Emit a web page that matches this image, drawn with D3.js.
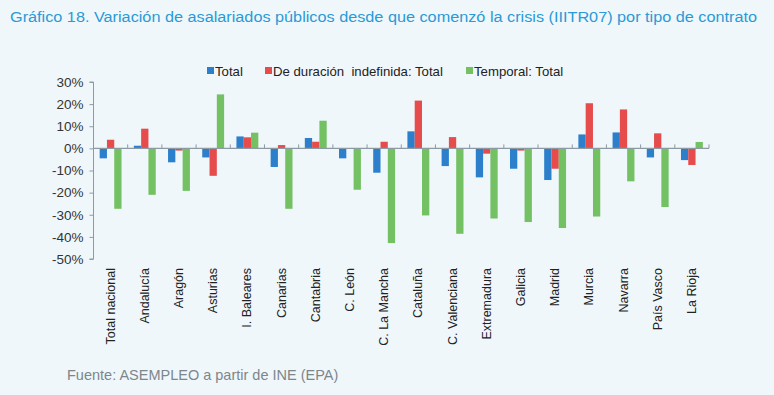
<!DOCTYPE html>
<html><head><meta charset="utf-8">
<script src="https://cdn.jsdelivr.net/npm/d3@7"></script>
<style>
html,body{margin:0;padding:0;background:#f0f7fb;}
svg{display:block;}
</style></head>
<body>
<svg id="chart" width="774" height="395"></svg>
<script>
const categories = ["Total nacional","Andalucía","Aragón","Asturias","I. Baleares","Canarias","Cantabria","C. León","C. La Mancha","Cataluña","C. Valenciana","Extremadura","Galicia","Madrid","Murcia","Navarra","País Vasco","La Rioja"];
const seriesNames = ["Total","De duración  indefinida: Total","Temporal: Total"];
const totalValues      = [-4.5, 1.2, -6.3, -4.1, 5.4, -8.4, 4.7, -4.5, -11.0, 7.7, -8.0, -13.1, -9.2, -14.3, 6.3, 7.2, -4.1, -5.3];
const indefinidaValues = [3.9, 8.9, -1.0, -12.4, 5.0, 1.5, 3.0, 0.0, 3.0, 21.6, 5.1, -2.4, -1.0, -9.2, 20.4, 17.6, 6.8, -7.5];
const temporalValues   = [-27.3, -21.0, -19.2, 24.4, 7.1, -27.3, 12.5, -18.7, -42.8, -30.3, -38.6, -31.7, -33.3, -36.0, -30.8, -14.9, -26.5, 2.9];
const yTicks = [30, 20, 10, 0, -10, -20, -30, -40, -50];
const colors = ["#2b7fcb", "#e64c4c", "#73c163"];

const svg = d3.select("#chart");
const font = "'Liberation Sans', Arial, sans-serif";

// Title
svg.append("text").attr("x", 10).attr("y", 22)
  .attr("font-family", font).attr("font-size", 15.5).attr("fill", "#2a9ad6")
  .attr("textLength", 747).attr("lengthAdjust", "spacingAndGlyphs")
  .text("Gráfico 18. Variación de asalariados públicos desde que comenzó la crisis (IIITR07) por tipo de contrato");

const series = [totalValues, indefinidaValues, temporalValues];

const x0 = d3.scaleBand().domain(d3.range(categories.length)).range([93.5, 709]).paddingInner(0).paddingOuter(0);
const bw = x0.bandwidth();
const x1 = d3.scaleBand().domain([0,1,2]).range([bw*0.18, bw*0.82]).padding(0);
const y = d3.scaleLinear().domain([-50, 30]).range([259, 82]);

const g = svg.append("g");
series.forEach((vals, s) => {
  g.selectAll(".b" + s).data(vals).enter().append("rect")
    .attr("class", "b" + s)
    .attr("x", (d, i) => x0(i) + x1(s))
    .attr("width", x1.bandwidth())
    .attr("y", d => y(Math.max(0, d)))
    .attr("height", d => Math.abs(y(d) - y(0)))
    .attr("fill", colors[s]);
});

const axisColor = "#8d9aa3";
// y axis
const yAxis = d3.axisLeft(y).tickValues(yTicks).tickSize(4).tickFormat(d => d + "%");
const ya = svg.append("g").attr("transform", "translate(93.5,0)").call(yAxis);
ya.select(".domain").attr("stroke", axisColor).attr("d", `M-4,${y(30)}H0V${y(-50)}H-4`);
ya.selectAll(".tick line").attr("stroke", axisColor);
ya.selectAll(".tick text").attr("font-family", font).attr("font-size", 13.5).attr("fill", "#333").attr("x", -10);

// zero line with category ticks pointing up
const xa = svg.append("g");
xa.append("line").attr("x1", 93.5).attr("x2", 709).attr("y1", y(0)).attr("y2", y(0))
  .attr("stroke", axisColor).attr("stroke-width", 1.2);
const bounds = d3.range(categories.length + 1).map(i => i < categories.length ? x0(i) : x0(categories.length - 1) + bw);
xa.selectAll(".tk").data(bounds).enter().append("line")
  .attr("x1", d => d).attr("x2", d => d).attr("y1", y(0)).attr("y2", y(0) - 4)
  .attr("stroke", axisColor);

// x labels rotated
svg.selectAll(".xl").data(categories).enter().append("text")
  .attr("transform", (d, i) => `translate(${x0(i) + bw/2 + 4},268) rotate(-90)`)
  .attr("text-anchor", "end")
  .attr("font-family", font).attr("font-size", 12.5).attr("fill", "#222")
  .text(d => d);

// legend
const legendItems = [{x: 207, t: seriesNames[0]}, {x: 265, t: seriesNames[1]}, {x: 466, t: seriesNames[2]}];
const lg = svg.append("g");
legendItems.forEach((it, i) => {
  lg.append("rect").attr("x", it.x).attr("y", 67).attr("width", 7).attr("height", 7).attr("fill", colors[i]);
  lg.append("text").attr("x", it.x + 8).attr("y", 75.5).attr("font-family", font).attr("font-size", 13.2)
    .attr("fill", "#222").style("white-space", "pre").text(it.t);
});

// source
svg.append("text").attr("x", 67).attr("y", 380).attr("font-family", font).attr("font-size", 14.5)
  .attr("fill", "#7d868c").text("Fuente: ASEMPLEO a partir de INE (EPA)");
</script>
</body></html>
